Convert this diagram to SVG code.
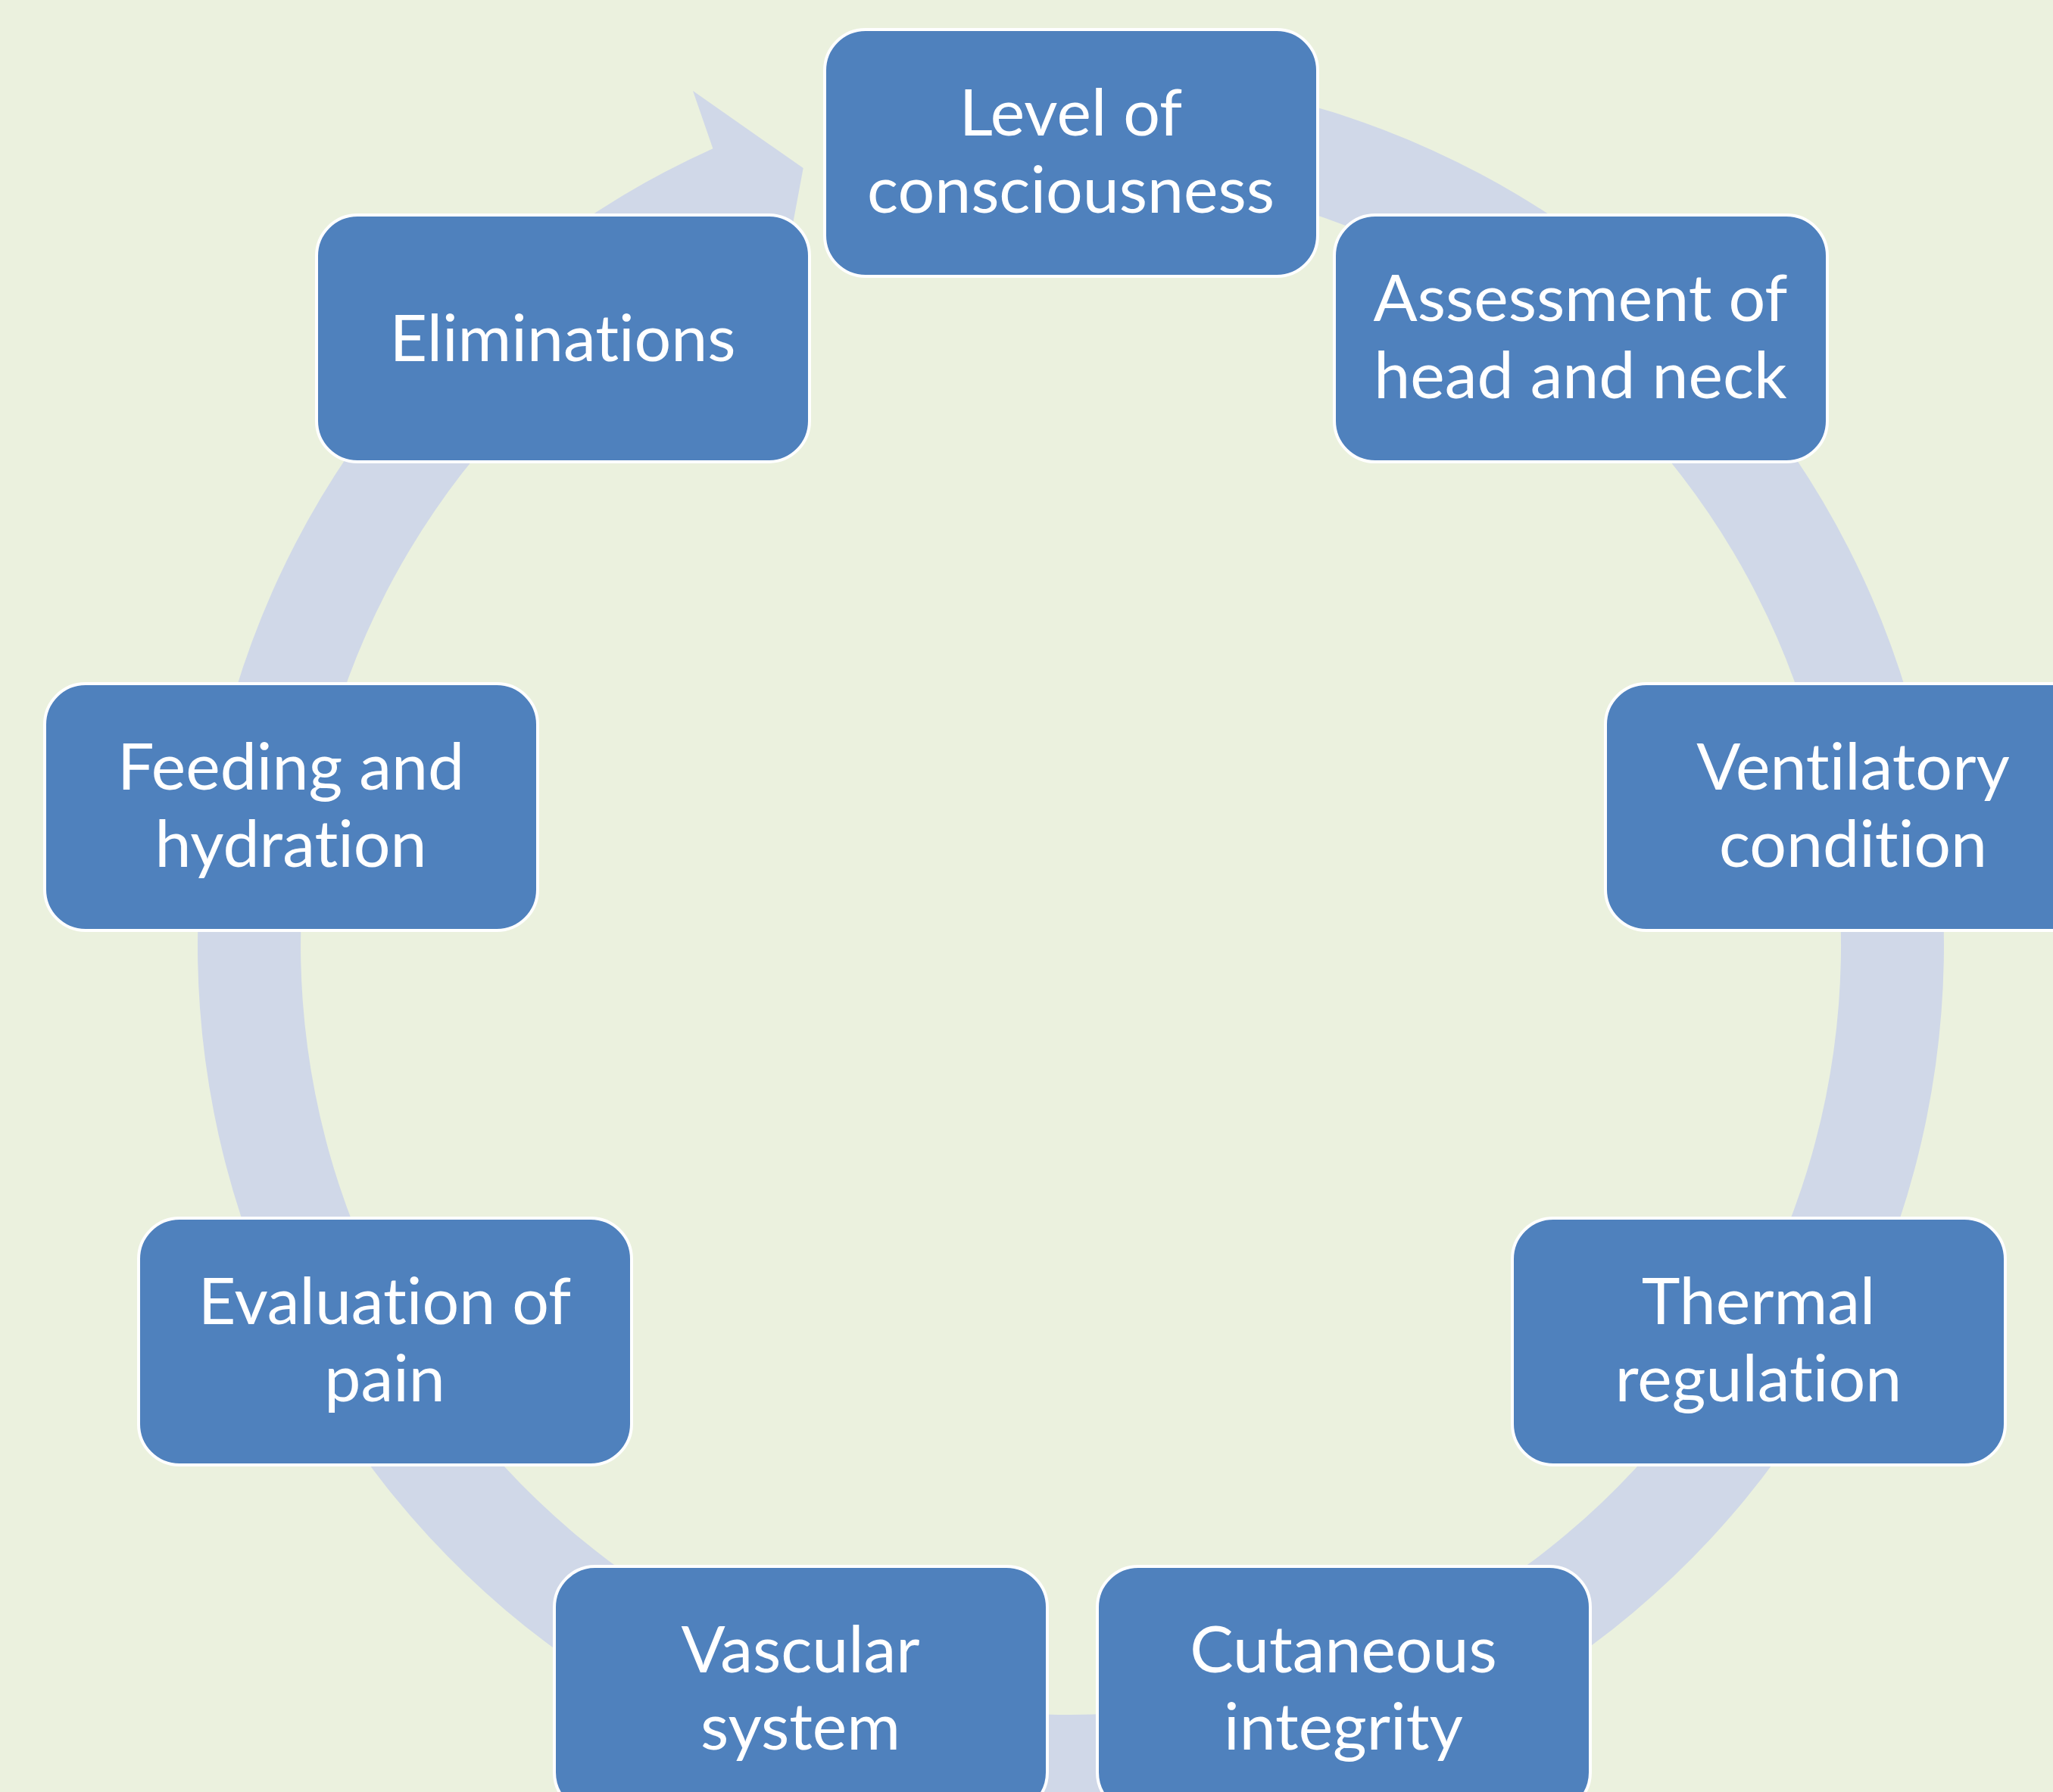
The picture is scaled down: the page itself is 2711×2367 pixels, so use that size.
<svg xmlns="http://www.w3.org/2000/svg" width="2711" height="2367" viewBox="0 0 2711 2367">
<style>
.bg{fill:#EBF1DE}
.ring{fill:#D0D8E8}
.box{fill:#4F81BD;stroke:#FFFFFF;stroke-width:4}
.lbl{fill:#FFFFFF;font-family:Lato,"Liberation Sans",sans-serif;font-size:86px;text-anchor:middle;font-variant-ligatures:none;font-feature-settings:"liga" 0}
</style>
<rect class="bg" x="0" y="0" width="2711" height="2367"/>
<g id="connectors">
<path class="ring" d="M1414,95 A1153,1153 0 1 1 941.4,196.3 L915,120 L1060.7,222.1 L1029.1,391.5 L997.1,320.4 A1017,1017 0 1 0 1414,231 Z"/>
</g>
<g id="node1">
<rect class="box" x="1089" y="39" width="651" height="326" rx="54"/>
<text class="lbl" x="1414" y="179">Level of</text>
<text class="lbl" x="1414" y="281">consciousness</text>
</g>
<g id="node2">
<rect class="box" x="1762" y="284" width="651" height="326" rx="54"/>
<text class="lbl" x="2087" y="424">Assessment of</text>
<text class="lbl" x="2087" y="526">head and neck</text>
</g>
<g id="node3">
<rect class="box" x="2120" y="903" width="651" height="326" rx="54"/>
<text class="lbl" x="2447" y="1043">Ventilatory</text>
<text class="lbl" x="2447" y="1145">condition</text>
</g>
<g id="node4">
<rect class="box" x="1997" y="1609" width="651" height="326" rx="54"/>
<text class="lbl" x="2322" y="1749">Thermal</text>
<text class="lbl" x="2322" y="1851">regulation</text>
</g>
<g id="node5">
<rect class="box" x="1449" y="2069" width="651" height="326" rx="54"/>
<text class="lbl" x="1774" y="2209">Cutaneous</text>
<text class="lbl" x="1774" y="2311">integrity</text>
</g>
<g id="node6">
<rect class="box" x="732" y="2069" width="651" height="326" rx="54"/>
<text class="lbl" x="1057" y="2209">Vascular</text>
<text class="lbl" x="1057" y="2311">system</text>
</g>
<g id="node7">
<rect class="box" x="183" y="1609" width="651" height="326" rx="54"/>
<text class="lbl" x="508" y="1749">Evaluation of</text>
<text class="lbl" x="508" y="1851">pain</text>
</g>
<g id="node8">
<rect class="box" x="59" y="903" width="651" height="326" rx="54"/>
<text class="lbl" x="384" y="1043">Feeding and</text>
<text class="lbl" x="384" y="1145">hydration</text>
</g>
<g id="node9">
<rect class="box" x="418" y="284" width="651" height="326" rx="54"/>
<text class="lbl" x="743" y="477">Eliminations</text>
</g>
</svg>
